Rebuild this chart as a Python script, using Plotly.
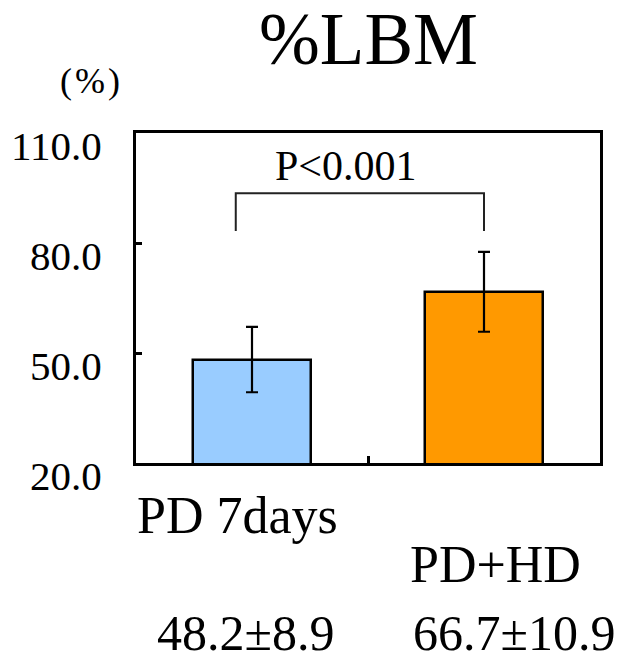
import plotly.graph_objects as go

# Group data
categories = ["PD 7days", "PD+HD"]
means = [48.2, 66.7]
sds = [8.9, 10.9]
bar_colors = ["#99CCFF", "#FF9900"]

# Y axis ticks
y_ticks = [20.0, 50.0, 80.0, 110.0]
y_range = [20, 110]

# Significance bracket
p_label = "P<0.001"
bracket_x = [-0.07, -0.07, 1.0, 1.0]
bracket_y = [83.3, 93.6, 93.6, 83.3]

FONT = "Liberation Serif, Times New Roman, serif"

x_pos = list(range(len(categories)))

fig = go.Figure()

fig.add_trace(go.Bar(
    x=x_pos,
    y=means,
    width=0.51,
    marker=dict(color=bar_colors, line=dict(color="black", width=2.5)),
    error_y=dict(type="data", array=sds, visible=True,
                 color="black", thickness=2.2, width=6),
    showlegend=False,
    hoverinfo="skip",
))

fig.add_trace(go.Scatter(
    x=bracket_x, y=bracket_y, mode="lines",
    line=dict(color="#222222", width=2),
    showlegend=False, hoverinfo="skip",
))

annotations = []

# title and unit
annotations.append(dict(text="%LBM", x=0.5, y=1.283, xref="paper", yref="paper",
                        xanchor="center", yanchor="middle", showarrow=False,
                        font=dict(family=FONT, size=73, color="black")))
annotations.append(dict(text="(\u200a%\u200a)", x=-0.0991, y=1.1576, xref="paper", yref="paper",
                        xanchor="center", yanchor="middle", showarrow=False,
                        font=dict(family=FONT, size=36, color="black")))

# p-value over the bracket
annotations.append(dict(text=p_label, x=0.405, y=101.1, xref="x", yref="y",
                        xanchor="center", yanchor="middle", showarrow=False,
                        font=dict(family=FONT, size=42, color="black")))

# category labels (second one staggered lower)
cat_y = [-0.1576, -0.309]
cat_shift = [-14.5, 11]
for i, name in enumerate(categories):
    annotations.append(dict(text=name, x=x_pos[i], y=cat_y[i], xref="x", yref="paper",
                            xshift=cat_shift[i], xanchor="center", yanchor="middle",
                            showarrow=False,
                            font=dict(family=FONT, size=52, color="black")))

# mean ± SD labels
val_shift = [-6.5, 30]
for i in x_pos:
    annotations.append(dict(text=f"{means[i]:.1f}±{sds[i]:.1f}", x=x_pos[i], y=-0.514,
                            xref="x", yref="paper", xshift=val_shift[i],
                            xanchor="center", yanchor="middle", showarrow=False,
                            font=dict(family=FONT, size=50, color="black")))

fig.update_layout(
    width=625, height=663,
    margin=dict(l=136, r=25, t=133, b=200),
    paper_bgcolor="white", plot_bgcolor="white",
    bargap=0,
    annotations=annotations,
    font=dict(family=FONT, color="black"),
)

fig.update_xaxes(
    range=[-0.5, 1.5],
    tickvals=[0.5], showticklabels=False,
    ticks="inside", ticklen=7, tickwidth=2.5, tickcolor="black",
    showline=True, linecolor="black", linewidth=3, mirror=True,
    showgrid=False, zeroline=False, fixedrange=True,
)

fig.update_yaxes(
    range=y_range,
    tickvals=y_ticks, ticktext=[f"{v:.1f}" for v in y_ticks],
    ticks="inside", ticklen=6, tickwidth=2.5, tickcolor="black",
    tickfont=dict(family=FONT, size=41, color="black"),
    ticklabelshift=13, ticklabelstandoff=23,
    showline=True, linecolor="black", linewidth=3, mirror=True,
    showgrid=False, zeroline=False, fixedrange=True,
)

fig.write_html("out.html")
